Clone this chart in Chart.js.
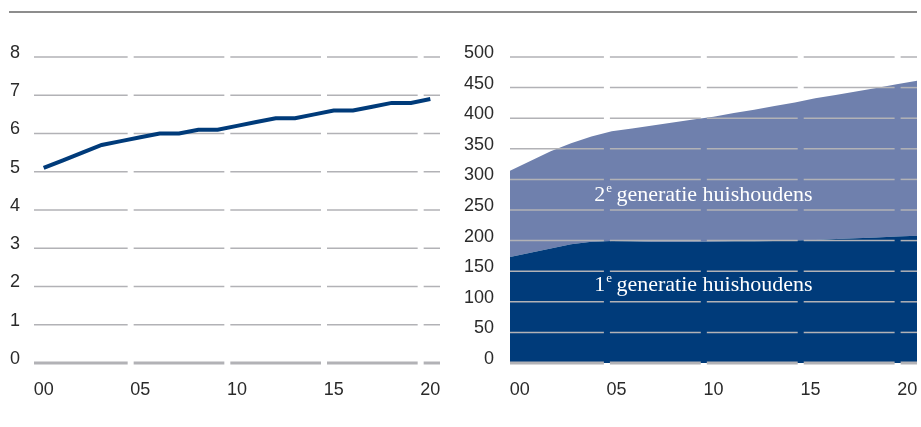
<!DOCTYPE html>
<html>
<head>
<meta charset="utf-8">
<script src="https://cdn.jsdelivr.net/npm/chart.js@4.4.1/dist/chart.umd.min.js"></script>
<style>
  html, body { margin: 0; padding: 0; background: #fff; }
  #wrap { position: relative; width: 921px; height: 427px; overflow: hidden; }
  #rule { position: absolute; left: 9px; top: 11px; width: 908px; height: 2px; background: #8d8d8d; }
  #left { position: absolute; left: 0; top: 0; }
  #right { position: absolute; left: 460px; top: 0; }
</style>
</head>
<body>
<div id="wrap">
  <div id="rule"></div>
  <canvas id="left" width="460" height="427"></canvas>
  <canvas id="right" width="461" height="427"></canvas>
</div>
<script>
// years 2000 - 2020
const years = ['00','01','02','03','04','05','06','07','08','09','10',
               '11','12','13','14','15','16','17','18','19','20']
const shownYears = ['00','05','10','15','20']

// left panel
const leftSeries = [5.1, 5.3, 5.5, 5.7, 5.8, 5.9, 6.0, 6.0, 6.1, 6.1, 6.2,
                    6.3, 6.4, 6.4, 6.5, 6.6, 6.6, 6.7, 6.8, 6.8, 6.9]

// right panel, stacked
const firstGen  = [173, 180, 187, 194, 198, 199.5, 199, 198, 198, 198, 198.5,
                   199, 199, 199.5, 200, 201, 202.5, 204, 205, 206.5, 208]
const secondGen = [141, 150, 159, 165, 172, 179, 184, 190, 195, 200, 204,
                   209.5, 215, 220.5, 225.5, 231.5, 235.5, 239.5, 244.5, 249, 253]

const areaTexts = ['1', '2']
const areaSuffix = ' generatie huishoudens'

const DARK = '#003b7a'
const LIGHT = '#6f80ad'
const GRID = 'rgb(178,178,182)'
const tickFont = {family: '"Liberation Sans", Arial, sans-serif', size: 18}
const tickColor = '#2a2a2a'

// horizontal grid lines, broken every 5 years
function drawGappedGrid(chart){
    const {ctx, chartArea: a} = chart
    const y = chart.scales.y
    const step = (a.right - a.left) / years.length
    const cuts = [5, 10, 15, 20].map(k => a.left + step * k)
    ctx.save()
    ctx.strokeStyle = GRID
    y.ticks.forEach(t => {
        const py = y.getPixelForValue(t.value)
        ctx.lineWidth = t.value === 0 ? 3 : 1.5
        let x0 = a.left
        cuts.concat([null]).forEach(c => {
            const x1 = c === null ? a.right : c - 3
            ctx.beginPath()
            ctx.moveTo(x0, py)
            ctx.lineTo(x1, py)
            ctx.stroke()
            x0 = c + 3
        })
    })
    ctx.restore()
}

const gappedGrid = {
    id: 'gappedGrid',
    beforeDatasetsDraw(chart, args, opts){ if (!opts.onTop) drawGappedGrid(chart) },
    afterDatasetsDraw(chart, args, opts){ if (opts.onTop) drawGappedGrid(chart) }
}

function drawGenText(ctx, cx, baseline, num){
    const big = '22px "Liberation Serif", "DejaVu Serif", serif'
    const small = '13px "Liberation Serif", "DejaVu Serif", serif'
    ctx.font = big
    const wNum = ctx.measureText(num).width
    const wRest = ctx.measureText(areaSuffix).width
    ctx.font = small
    const wSup = ctx.measureText('e').width
    let x = cx - (wNum + wSup + wRest) / 2
    ctx.fillStyle = '#ffffff'
    ctx.textBaseline = 'alphabetic'
    ctx.textAlign = 'left'
    ctx.font = big
    ctx.fillText(num, x, baseline)
    x += wNum
    ctx.font = small
    ctx.fillText('e', x + 1, baseline - 9)
    x += wSup
    ctx.font = big
    ctx.fillText(areaSuffix, x, baseline)
}

const areaLabels = {
    id: 'areaLabels',
    afterDatasetsDraw(chart){
        const ctx = chart.ctx
        const x = chart.scales.x.getPixelForValue(9.5)
        const y = chart.scales.y
        ctx.save()
        drawGenText(ctx, x, y.getPixelForValue(117), areaTexts[0])
        drawGenText(ctx, x, y.getPixelForValue(264), areaTexts[1])
        ctx.restore()
    }
}

function yearAxis(){
    return {
        type: 'category',
        labels: years,
        offset: true,
        position: 'bottom',
        grid: {display: false, drawTicks: false},
        border: {display: false},
        ticks: {
            autoSkip: false,
            maxRotation: 0,
            padding: 16,
            color: tickColor,
            font: tickFont,
            callback: (v, i) => shownYears.includes(years[i]) ? years[i] : ''
        },
        afterFit: s => {
            s.height = 64
            s.paddingLeft = 0
            s.paddingRight = 0
        }
    }
}

new Chart(document.getElementById('left'), {
    type: 'line',
    data: {
        labels: years,
        datasets: [{
            data: leftSeries,
            borderColor: DARK,
            borderWidth: 4,
            pointRadius: 0,
            tension: 0,
            fill: false
        }]
    },
    options: {
        responsive: false,
        animation: false,
        layout: {padding: {top: 57, right: 20, left: 0, bottom: 0}},
        plugins: {legend: {display: false}, tooltip: {enabled: false}, gappedGrid: {onTop: false}},
        scales: {
            x: yearAxis(),
            y: {
                min: 0, max: 8,
                ticks: {stepSize: 1, padding: 14, labelOffset: -4, color: tickColor, font: tickFont},
                grid: {display: false, drawTicks: false},
                border: {display: false},
                afterFit: s => { s.width = 34 }
            }
        }
    },
    plugins: [gappedGrid]
})

new Chart(document.getElementById('right'), {
    type: 'line',
    data: {
        datasets: [{
            label: '1e generatie huishoudens',
            data: firstGen.map((v, i) => ({x: i, y: v})),
            xAxisID: 'x',
            backgroundColor: DARK,
            borderWidth: 0,
            pointRadius: 0,
            fill: 'origin'
        }, {
            label: '2e generatie huishoudens',
            data: secondGen.map((v, i) => ({x: i, y: v})),
            xAxisID: 'x',
            backgroundColor: LIGHT,
            borderWidth: 0,
            pointRadius: 0,
            fill: '-1'
        }]
    },
    options: {
        responsive: false,
        animation: false,
        layout: {padding: {top: 57, right: 4, left: 0, bottom: 0}},
        plugins: {legend: {display: false}, tooltip: {enabled: false}, gappedGrid: {onTop: true}},
        scales: {
            x: {type: 'linear', min: 0, max: 20, display: false},
            xl: yearAxis(),
            y: {
                stacked: true,
                min: 0, max: 500,
                ticks: {stepSize: 50, padding: 16, labelOffset: -4, color: tickColor, font: tickFont},
                grid: {display: false, drawTicks: false},
                border: {display: false},
                afterFit: s => { s.width = 50 }
            }
        }
    },
    plugins: [gappedGrid, areaLabels]
})
</script>
</body>
</html>
